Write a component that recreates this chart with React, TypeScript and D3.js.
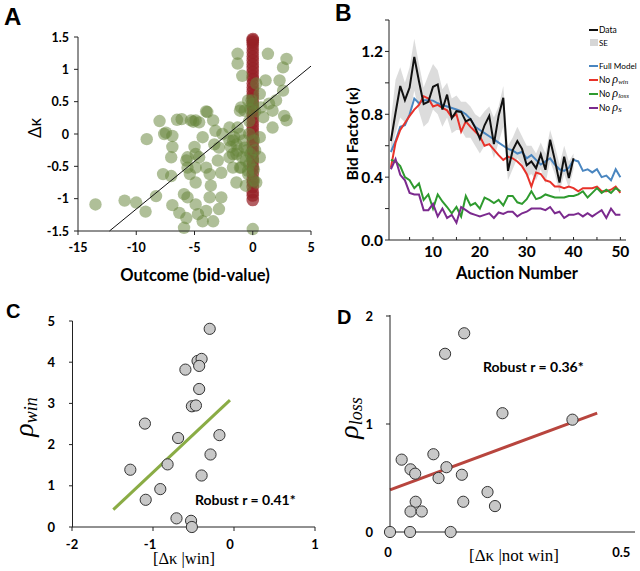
import React from "react";
import * as d3 from "d3";

// ---------- Panel A data ----------
const greenPts: [number, number][] = [
  [-13.5,-1.09],[-11.0,-1.03],[-10.0,-1.06],[-9.2,-1.2],[-9.1,-0.08],[-8.0,0.2],[-7.6,0.0],[-6.9,-0.03],[-6.9,-0.2],[-7.0,-0.36],
  [-7.7,-0.62],[-8.3,-0.96],[-7.0,-0.65],[-6.9,-1.1],[-6.3,-1.22],[-5.7,-1.3],[-5.9,-1.45],[-6.1,0.23],[-5.3,0.21],[-4.9,0.21],
  [-4.6,0.18],[-5.7,-0.41],[-5.6,-0.52],[-5.4,-0.62],[-5.9,-0.93],[-5.6,-0.98],[-4.9,-0.31],[-4.9,-0.52],[-4.9,-0.75],[-4.9,-1.09],
  [-4.7,-1.24],[-4.3,-1.35],[-4.0,-1.19],[-3.9,0.34],[-3.4,0.21],[-4.0,-0.52],[-3.7,-0.62],[-3.6,-0.8],[-3.7,-0.98],[-3.4,-1.35],
  [-3.3,-0.16],[-3.2,0.05],[-2.9,-0.21],[-3.0,-0.41],[-2.7,-0.6],[-2.7,-0.98],[-2.9,-1.16],[-2.6,0.0],[-2.0,-0.1],[-2.0,-0.36],
  [-1.7,-0.31],[-1.6,-0.05],[-1.4,-0.75],[-1.7,-0.52],[-1.1,-0.52],[-1.3,1.09],[-1.3,1.24],[-0.9,0.9],[-1.1,0.36],[-1.0,0.41],
  [-0.7,0.36],[-1.3,0.1],[-1.4,-0.16],[-1.3,-0.26],[-0.9,-0.36],[-0.7,-0.21],[-0.6,-0.41],[-1.0,-0.52],[-0.4,-0.62],[-0.6,-0.8],
  [-0.4,0.52],[0.0,0.47],[0.3,0.78],[0.1,-0.72],[0.3,-0.75],[0.0,-1.47],[0.6,-0.05],[0.6,-0.36],[0.6,0.62],[0.7,0.41],
  [0.9,0.26],[1.3,1.24],[1.1,0.83],[1.4,0.47],[1.7,0.36],[1.7,0.1],[2.3,0.83],[2.6,1.03],[2.9,1.16],[2.6,0.67],
  [2.7,0.28],[2.9,0.21],[2.0,0.52],[-0.1,0.52],[-0.3,0.0],[-0.2,-0.31],[-0.3,-0.47],[-0.4,-0.57],[-1.7,-0.1],[-1.9,-0.2],
  [-1.4,-0.31],[-1.1,0.0],[-2.0,0.1],[-4.6,-0.36],[-4.3,-0.05],[-0.2,0.38],[0.2,0.35],[0.1,-0.1],[0.2,-0.25],[0.0,-0.4],
  [0.1,-0.55],[-0.5,-0.25],[-0.8,-0.1],[-0.3,0.2],[-7.45,0.02],[-6.5,0.22],[-5.1,0.19],[-4.0,0.35],[-5.0,-0.2],[-5.6,-0.36]
];
const redOutcome = 0;
const redDelta: number[] = [
  -1.02,-0.95,-0.9,-0.82,-0.75,-0.7,-0.62,-0.55,-0.5,-0.43,-0.38,-0.3,-0.25,-0.18,-0.12,-0.05,0.0,0.06,0.12,0.18,
  0.24,0.3,0.36,0.42,0.48,0.55,0.6,0.66,0.72,0.78,0.85,0.9,0.96,1.02,1.08,1.14,1.2,1.26,1.32,1.38,1.42,1.45,1.47
];
const fitA: [number, number][] = [[-12.3,-1.5],[5,1.05]];
const ticksAx = [-15,-10,-5,0,5];
const ticksAy = [-1.5,-1,-0.5,0,0.5,1,1.5];

// ---------- Panel B data ----------
const dataMean = [0.63,0.81,0.98,0.89,0.97,1.165,1.01,0.865,0.88,0.975,0.99,0.83,0.925,0.775,0.82,0.815,0.755,0.77,0.715,0.645,
  0.73,0.79,0.61,0.79,0.905,0.44,0.57,0.63,0.58,0.475,0.50,0.457,0.545,0.447,0.638,0.51,0.365,0.53,0.395,0.52];
const seUpper = [0.76,1.02,1.1,1.0,1.1,1.28,1.12,0.97,1.05,1.12,1.08,0.96,1.0,0.9,0.92,0.88,0.88,0.85,0.8,0.78,
  0.82,0.85,0.78,0.85,0.98,0.6,0.65,0.72,0.66,0.6,0.6,0.55,0.62,0.55,0.7,0.6,0.48,0.6,0.5,0.55];
const seLower = [0.55,0.68,0.78,0.75,0.8,0.95,0.82,0.72,0.75,0.83,0.8,0.72,0.78,0.68,0.7,0.7,0.65,0.65,0.6,0.55,
  0.6,0.62,0.52,0.62,0.72,0.38,0.45,0.52,0.48,0.4,0.42,0.38,0.45,0.36,0.5,0.42,0.3,0.42,0.33,0.45];
const fullModel = [0.56,0.63,0.72,0.73,0.80,0.90,0.87,0.89,0.89,0.887,0.87,0.86,0.85,0.84,0.83,0.82,0.80,0.77,0.72,0.70,
  0.68,0.66,0.64,0.62,0.60,0.58,0.57,0.55,0.56,0.52,0.54,0.51,0.48,0.50,0.52,0.48,0.45,0.44,0.46,0.51,
  0.50,0.44,0.45,0.43,0.45,0.40,0.41,0.38,0.45,0.40];
const noWin = [0.46,0.62,0.70,0.745,0.79,0.83,0.86,0.915,0.90,0.85,0.86,0.84,0.825,0.78,0.80,0.69,0.755,0.72,0.69,0.66,
  0.60,0.61,0.575,0.54,0.51,0.53,0.52,0.50,0.47,0.42,0.34,0.43,0.42,0.38,0.37,0.34,0.34,0.33,0.34,0.33,
  0.31,0.33,0.33,0.33,0.34,0.31,0.31,0.32,0.34,0.30];
const noLoss = [0.51,0.50,0.47,0.40,0.38,0.33,0.36,0.255,0.29,0.20,0.29,0.245,0.21,0.17,0.21,0.15,0.28,0.22,0.235,0.20,
  0.27,0.255,0.235,0.255,0.22,0.28,0.28,0.24,0.23,0.26,0.31,0.26,0.27,0.29,0.28,0.27,0.27,0.27,0.28,0.28,
  0.29,0.31,0.27,0.30,0.33,0.30,0.32,0.30,0.33,0.31];
const noS = [0.45,0.515,0.415,0.38,0.30,0.29,0.29,0.19,0.19,0.23,0.15,0.20,0.14,0.16,0.11,0.21,0.19,0.17,0.16,0.15,
  0.16,0.17,0.14,0.175,0.166,0.18,0.18,0.15,0.17,0.18,0.20,0.20,0.20,0.19,0.21,0.17,0.18,0.14,0.16,0.16,
  0.17,0.15,0.17,0.15,0.17,0.19,0.14,0.20,0.16,0.16];
const ticksBxLabels = [10,20,30,40,50];
const ticksBxMinor = [5,10,15,20,25,30,35,40,45,50];
const ticksByLabels = [0,0.4,0.8,1.2];
const ticksByMinor = [0,0.2,0.4,0.6,0.8,1.0,1.2,1.4];

// ---------- Panel C data ----------
const ptsC: [number, number][] = [
  [-0.30,4.81],[-0.45,4.03],[-0.40,4.08],[-0.43,3.91],[-0.60,3.82],[-0.43,3.35],[-0.52,2.93],[-0.47,2.95],[-1.10,2.51],[-0.69,2.16],
  [-0.18,2.23],[-0.29,1.76],[-1.28,1.39],[-0.82,1.52],[-0.40,1.25],[-0.91,0.92],[-1.09,0.66],[-0.71,0.21],[-0.53,0.15],[-0.52,0.0]
];
const fitC: [number, number][] = [[-1.49,0.42],[-0.05,3.08]];
const ticksCx = [-2,-1,0,1];
const ticksCy = [0,1,2,3,4,5];

// ---------- Panel D data ----------
const ptsD: [number, number][] = [
  [0.159,1.84],[0.118,1.65],[0.241,1.10],[0.391,1.04],[0.025,0.67],[0.093,0.72],[0.044,0.58],[0.054,0.54],[0.121,0.60],[0.104,0.50],
  [0.154,0.53],[0.209,0.37],[0.225,0.24],[0.157,0.28],[0.055,0.28],[0.044,0.19],[0.068,0.19],[0.0,0.0],[0.043,0.0],[0.13,0.0]
];
const fitD: [number, number][] = [[0,0.39],[0.444,1.10]];
const ticksDx = [0,0.5];
const ticksDy = [0,1,2];

const SANS = "Lato, 'Open Sans', 'Liberation Sans', sans-serif";
const ARIAL = "'Liberation Sans', Arial, sans-serif";
const SERIF = "'Liberation Serif', 'DejaVu Serif', serif";

export default function App() {
  const xA = d3.scaleLinear().domain([-15, 5]).range([78, 311]);
  const yA = d3.scaleLinear().domain([-1.5, 1.5]).range([231, 37]);
  const xB = d3.scaleLinear().domain([0.6, 51.2]).range([389, 626]);
  const yB = d3.scaleLinear().domain([0, 1.4]).range([240, 20]);
  const xC = d3.scaleLinear().domain([-2, 1]).range([72, 315]);
  const yC = d3.scaleLinear().domain([0, 5]).range([527, 321]);
  const xD = d3.scaleLinear().domain([0, 0.5]).range([390, 623.3]);
  const yD = d3.scaleLinear().domain([0, 2]).range([532, 316]);

  const lineB = (vals: number[]) =>
    d3.line<number>().x((_, i) => xB(i + 1)).y((v) => yB(v))(vals) || "";
  const areaSE =
    d3.area<number>()
      .x((_, i) => xB(i + 1))
      .y0((_, i) => yB(seLower[i]))
      .y1((v) => yB(v))(seUpper) || "";

  const legend = [
    { key: "full", color: "#4a86c0", label: "Full Model", sub: null as string | null, y: 66 },
    { key: "win", color: "#e8322a", label: "No ", sub: "win", y: 80 },
    { key: "loss", color: "#2e9a2e", label: "No ", sub: "loss", y: 94 },
    { key: "s", color: "#7b2a8e", label: "No ", sub: "s", y: 108 },
  ];

  return (
    <svg width={640} height={571} style={{ position: "absolute", left: 0, top: 0, background: "#fff" }}>
      {/* ================= Panel A ================= */}
      <text x={4} y={25} fontFamily={ARIAL} fontWeight="bold" fontSize={24}>A</text>
      {redDelta.map((v, i) => (
        <circle key={"r" + i} cx={xA(redOutcome)} cy={yA(v)} r={6.3} fill="#962025" fillOpacity={0.72} />
      ))}
      {greenPts.map((p, i) => (
        <circle key={"g" + i} cx={xA(p[0])} cy={yA(p[1])} r={6.2} fill="#66843a" fillOpacity={0.52} />
      ))}
      <line x1={xA(fitA[0][0])} y1={yA(fitA[0][1])} x2={xA(fitA[1][0])} y2={yA(fitA[1][1])} stroke="#111" strokeWidth={1} />
      <line x1={78} y1={37} x2={78} y2={231} stroke="#222" strokeWidth={1} />
      <line x1={78} y1={231} x2={311} y2={231} stroke="#222" strokeWidth={1} />
      {ticksAy.map((t) => (
        <g key={"ay" + t}>
          <line x1={74} x2={78} y1={yA(t)} y2={yA(t)} stroke="#222" />
          <text x={69} y={yA(t) + 4.5} textAnchor="end" fontFamily={SANS} fontWeight="bold" fontSize={12.5}>{t}</text>
        </g>
      ))}
      {ticksAx.map((t) => (
        <g key={"ax" + t}>
          <line x1={xA(t)} x2={xA(t)} y1={231} y2={235} stroke="#222" />
          <text x={xA(t)} y={252} textAnchor="middle" fontFamily={SANS} fontWeight="bold" fontSize={12.5}>{t}</text>
        </g>
      ))}
      <text x={195} y={281} textAnchor="middle" fontFamily={SANS} fontWeight="bold" fontSize={16.5}>Outcome (bid-value)</text>
      <text transform="translate(41,128) rotate(-90)" textAnchor="middle" fontFamily={SANS} fontSize={17}>Δκ</text>

      {/* ================= Panel B ================= */}
      <text x={335} y={21} fontFamily={ARIAL} fontWeight="bold" fontSize={23}>B</text>
      <path d={areaSE} fill="#d6d6d6" fillOpacity={0.85} />
      <path d={lineB(fullModel)} fill="none" stroke="#4a86c0" strokeWidth={2} />
      <path d={lineB(noWin)} fill="none" stroke="#e8322a" strokeWidth={2} />
      <path d={lineB(noLoss)} fill="none" stroke="#2e9a2e" strokeWidth={2} />
      <path d={lineB(noS)} fill="none" stroke="#7b2a8e" strokeWidth={2} />
      <path d={lineB(dataMean)} fill="none" stroke="#111" strokeWidth={2} />
      <line x1={389} y1={20} x2={389} y2={240} stroke="#222" />
      <line x1={389} y1={240} x2={626} y2={240} stroke="#222" />
      {ticksByMinor.map((t) => (
        <line key={"bym" + t} x1={385} x2={389} y1={yB(t)} y2={yB(t)} stroke="#222" />
      ))}
      {ticksBxMinor.map((t) => (
        <line key={"bxm" + t} x1={xB(t)} x2={xB(t)} y1={240} y2={237} stroke="#222" />
      ))}
      {ticksByLabels.map((t) => (
        <text key={"byl" + t} x={383} y={yB(t) + 5.5} textAnchor="end" fontFamily={SANS} fontWeight="bold" fontSize={15.5}>{t.toFixed(1)}</text>
      ))}
      {ticksBxLabels.map((t) => (
        <text key={"bxl" + t} x={xB(t)} y={257} textAnchor="middle" fontFamily={SANS} fontWeight="bold" fontSize={15.5}>{t}</text>
      ))}
      <text x={517} y={279} textAnchor="middle" fontFamily={SANS} fontWeight="bold" fontSize={16.5}>Auction Number</text>
      <text transform="translate(358,134) rotate(-90)" textAnchor="middle" fontFamily={SANS} fontWeight="bold" fontSize={16}>Bid Factor (κ)</text>
      {/* legend */}
      <line x1={589} x2={598} y1={30} y2={30} stroke="#111" strokeWidth={2} />
      <text x={599} y={33} fontFamily={SANS} fontSize={8.5}>Data</text>
      <rect x={590} y={39} width={8} height={7} fill="#d6d6d6" />
      <text x={599} y={46} fontFamily={SANS} fontSize={8}>SE</text>
      {legend.map((l) => (
        <g key={l.key}>
          <line x1={589} x2={598} y1={l.y} y2={l.y} stroke={l.color} strokeWidth={2} />
          <text x={599} y={l.y + 3} fontFamily={SANS} fontSize={l.sub === null ? 8.2 : 8.5}>
            {l.label}
            {l.sub !== null && (
              <>
                <tspan fontFamily={SERIF} fontStyle="italic" fontSize={12}>ρ</tspan>
                <tspan fontFamily={SERIF} fontStyle="italic" fontSize={l.sub === "s" ? 9 : 7} dy={1}>{l.sub}</tspan>
              </>
            )}
          </text>
        </g>
      ))}

      {/* ================= Panel C ================= */}
      <text x={6} y={318} fontFamily={ARIAL} fontWeight="bold" fontSize={20}>C</text>
      <line x1={xC(fitC[0][0])} y1={yC(fitC[0][1])} x2={xC(fitC[1][0])} y2={yC(fitC[1][1])} stroke="#8aac45" strokeWidth={3} />
      <line x1={72.5} y1={321} x2={72.5} y2={527} stroke="#222" />
      <line x1={72} y1={527} x2={315} y2={527} stroke="#222" />
      {ticksCy.map((t) => (
        <g key={"cy" + t}>
          <line x1={69} x2={72.5} y1={yC(t)} y2={yC(t)} stroke="#222" />
          <text x={55} y={yC(t) + 4.5} textAnchor="end" fontFamily={SANS} fontWeight="bold" fontSize={13}>{t}</text>
        </g>
      ))}
      {ticksCx.map((t) => (
        <g key={"cx" + t}>
          <line x1={xC(t)} x2={xC(t)} y1={527} y2={531} stroke="#222" />
          <text x={xC(t) - (t === 0 ? 4 : t === -1 ? 3 : 0)} y={549} textAnchor="middle" fontFamily={SANS} fontWeight="bold" fontSize={13}>{t}</text>
        </g>
      ))}
      {ptsC.map((p, i) => (
        <circle key={"c" + i} cx={xC(p[0])} cy={yC(p[1])} r={5.6} fill="#c8c8c8" stroke="#333" strokeWidth={1} />
      ))}
      <text x={195} y={505} fontFamily={SANS} fontWeight="bold" fontSize={14}>Robust r = 0.41*</text>
      <text x={184} y={564} textAnchor="middle" fontFamily={SERIF} fontSize={16.5}>[Δκ |win]</text>
      <text transform="translate(33,417) rotate(-90)" textAnchor="middle" fontFamily={SERIF} fontStyle="italic">
        <tspan fontSize={28}>ρ</tspan>
        <tspan fontSize={18} dy={4}>win</tspan>
      </text>

      {/* ================= Panel D ================= */}
      <text x={337} y={324} fontFamily={ARIAL} fontWeight="bold" fontSize={20}>D</text>
      <line x1={xD(fitD[0][0])} y1={yD(fitD[0][1])} x2={xD(fitD[1][0])} y2={yD(fitD[1][1])} stroke="#b8453e" strokeWidth={3} />
      <line x1={390} y1={315} x2={390} y2={532} stroke="#222" />
      <line x1={390} y1={532} x2={635} y2={532} stroke="#222" />
      {ticksDy.map((t) => (
        <g key={"dy" + t}>
          <line x1={386} x2={390} y1={yD(t)} y2={yD(t)} stroke="#222" />
          <text x={373} y={yD(t) + 4.5} textAnchor="end" fontFamily={SANS} fontWeight="bold" fontSize={13}>{t}</text>
        </g>
      ))}
      {ticksDx.map((t) => (
        <text key={"dx" + t} x={xD(t) - 2} y={557} textAnchor="middle" fontFamily={SANS} fontWeight="bold" fontSize={13}>{t}</text>
      ))}
      {ptsD.map((p, i) => (
        <circle key={"d" + i} cx={xD(p[0])} cy={yD(p[1])} r={5.6} fill="#c8c8c8" stroke="#333" strokeWidth={1} />
      ))}
      <text x={483} y={372} fontFamily={SANS} fontWeight="bold" fontSize={14}>Robust r = 0.36*</text>
      <text x={514} y={561} textAnchor="middle" fontFamily={SERIF} fontSize={17}>[Δκ |not win]</text>
      <text transform="translate(358,418) rotate(-90)" textAnchor="middle" fontFamily={SERIF} fontStyle="italic">
        <tspan fontSize={28}>ρ</tspan>
        <tspan fontSize={18} dy={4}>loss</tspan>
      </text>
    </svg>
  );
}
